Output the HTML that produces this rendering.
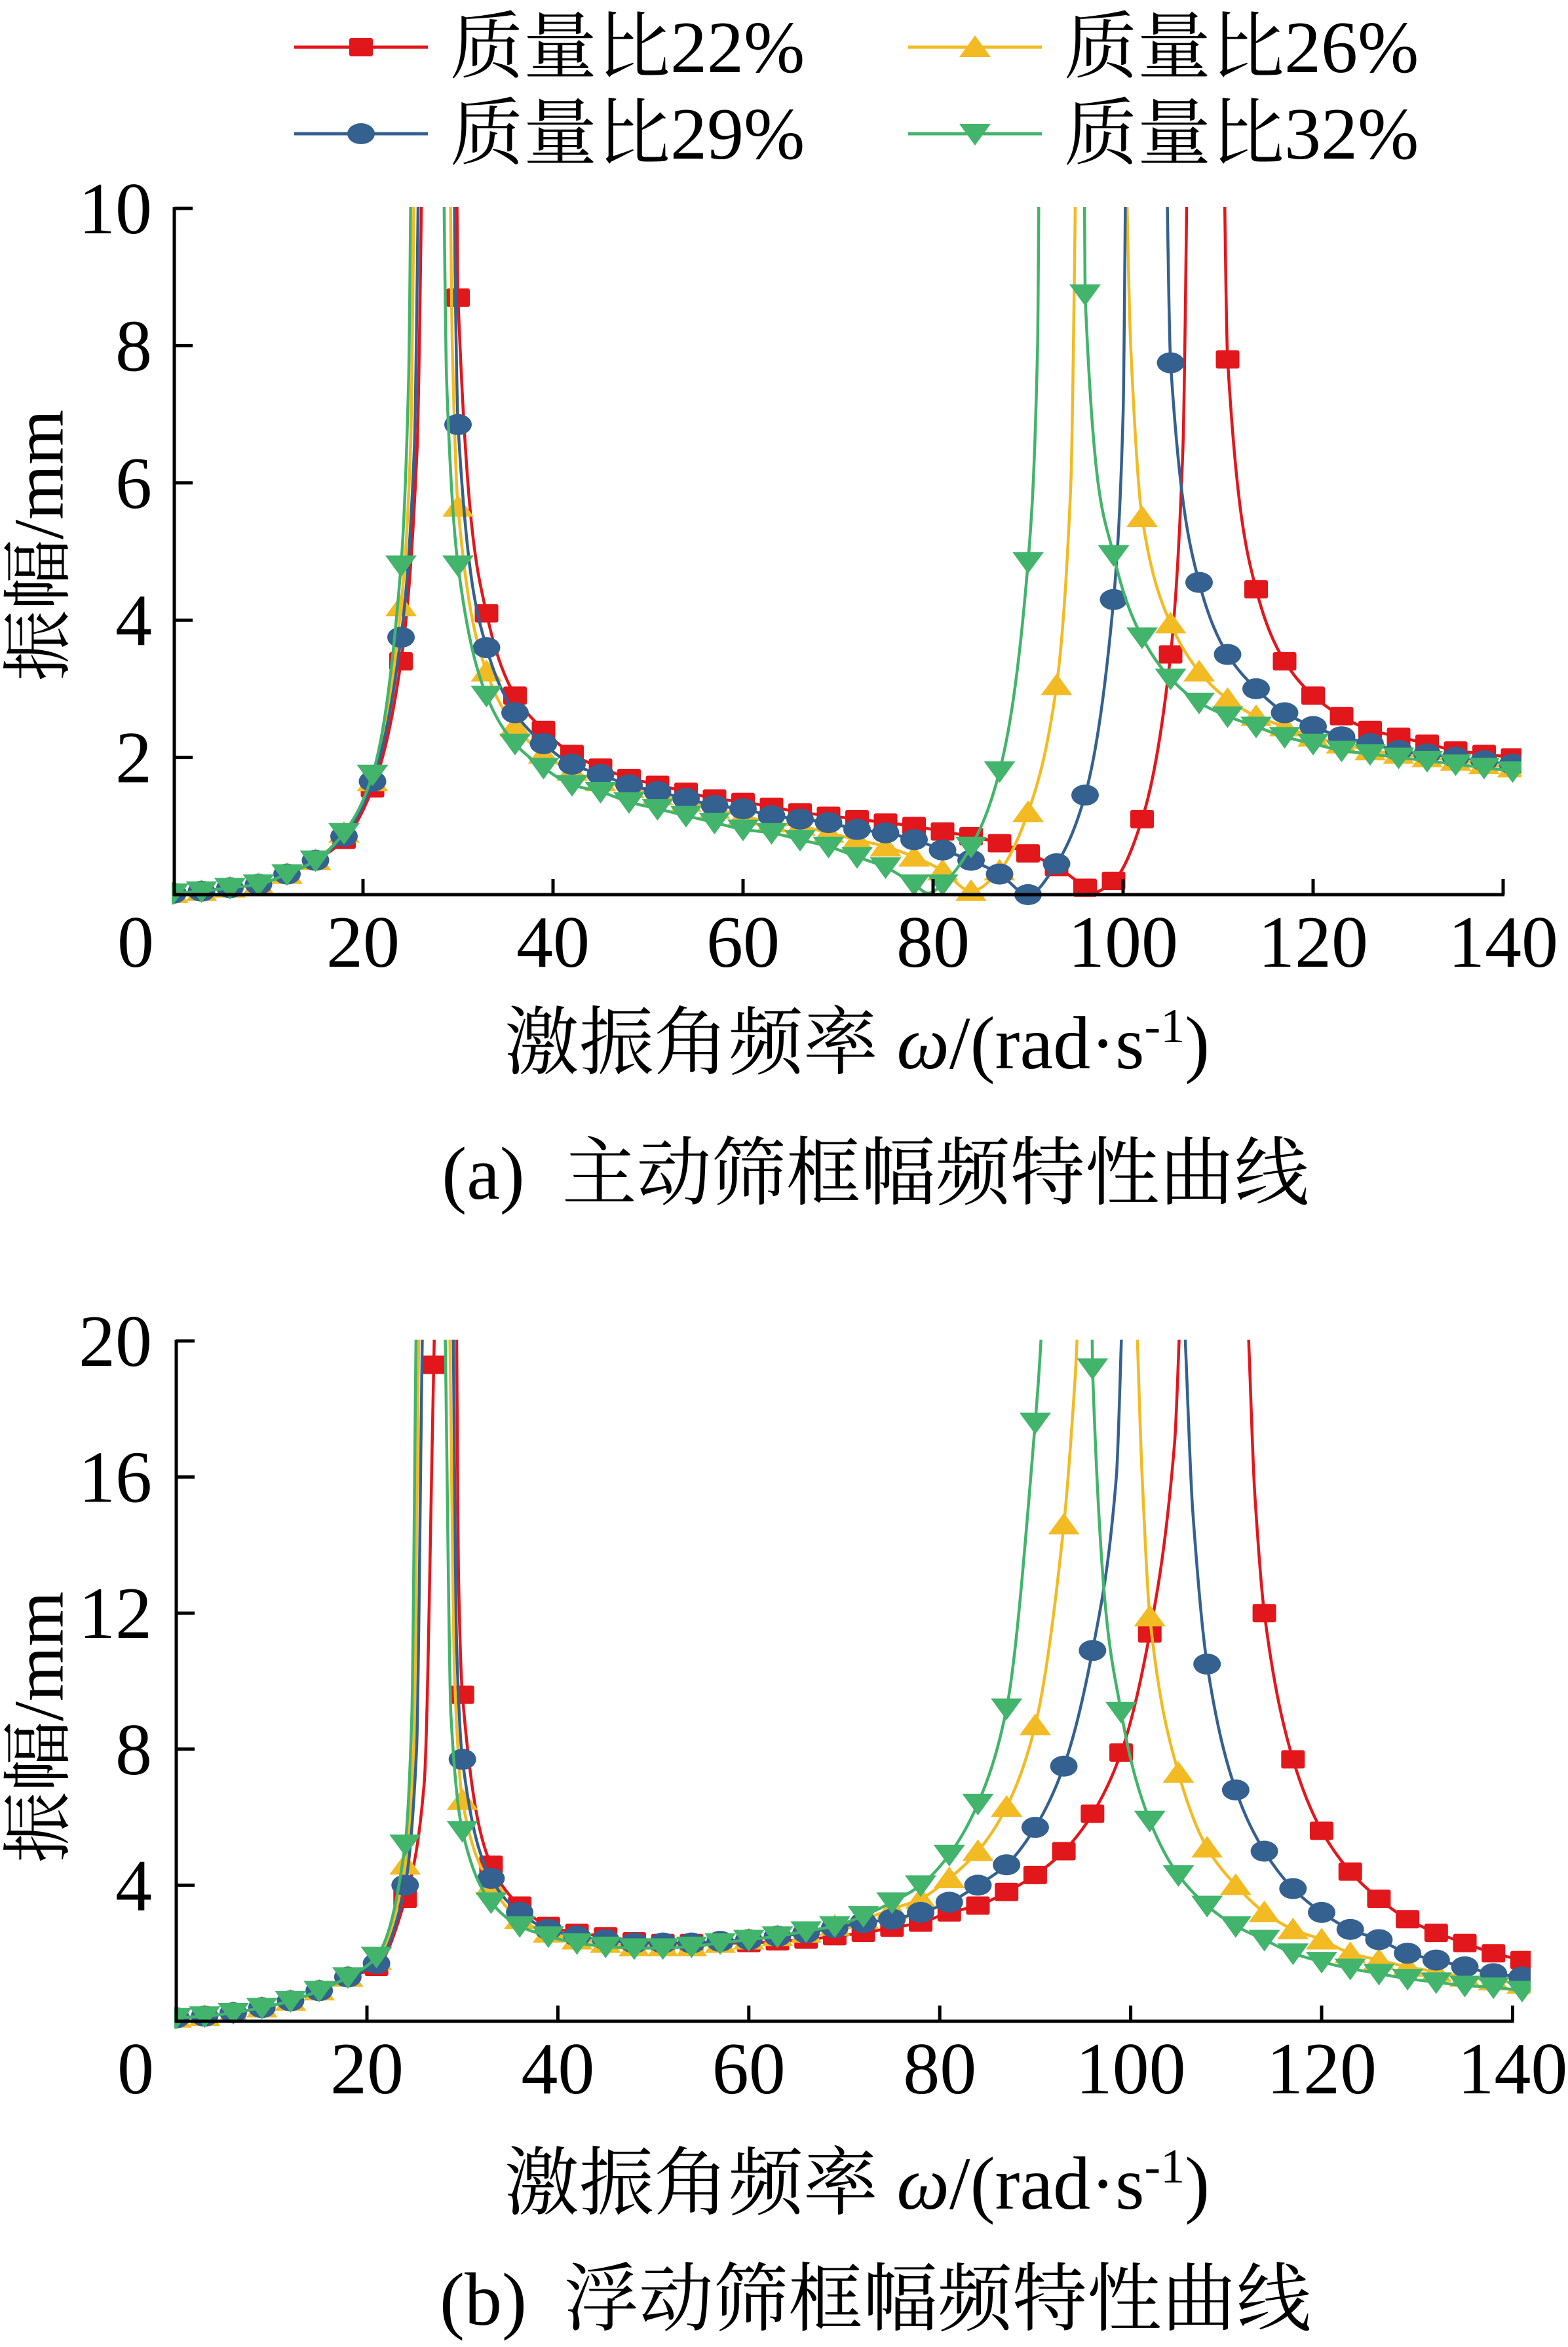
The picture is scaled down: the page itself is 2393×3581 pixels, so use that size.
<!DOCTYPE html>
<html><head><meta charset="utf-8"><style>
html,body{margin:0;padding:0;background:#fff;}
svg{display:block;}
text{font-family:"Liberation Serif","Noto Serif CJK SC",serif;fill:#000;}
</style></head><body>
<svg id="fig" xmlns="http://www.w3.org/2000/svg" width="2393" height="3581" viewBox="0 0 2393 3581">
<defs>
<clipPath id="clipA"><rect x="262" y="316" width="2060" height="1070"/></clipPath>
<clipPath id="clipB"><rect x="266" y="2044" width="2070" height="1060"/></clipPath>
</defs>
<g id="legend"></g>
<g id="chartA"></g>
<g id="chartB"></g>
<text x="60" y="832" font-size="108" text-anchor="middle" dominant-baseline="central" transform="rotate(-90 60 832)">振幅/mm</text>
<text x="60" y="2635" font-size="108" text-anchor="middle" dominant-baseline="central" transform="rotate(-90 60 2635)">振幅/mm</text>
<text x="1308" y="1630" font-size="114" text-anchor="middle">激振角频率 <tspan font-style="italic">ω</tspan>/(rad·s<tspan dy="-40" font-size="74">-1</tspan><tspan dy="40">)</tspan></text>
<text x="1336" y="1829" font-size="114" text-anchor="middle" xml:space="preserve">(a)  主动筛框幅频特性曲线</text>
<text x="1308" y="3370" font-size="114" text-anchor="middle">激振角频率 <tspan font-style="italic">ω</tspan>/(rad·s<tspan dy="-40" font-size="74">-1</tspan><tspan dy="40">)</tspan></text>
<text x="1336" y="3547" font-size="114" text-anchor="middle" xml:space="preserve">(b)  浮动筛框幅频特性曲线</text>
</svg>
<script>
// ---- data ----
const xs = [0,3,6,9,12,15,18,21,24,27,30,33,36,39,42,45,48,51,54,57,60,63,66,69,72,75,78,81,84,87,90,93,96,99,102,105,108,111,114,117,120,123,126,129,132,135,138,141];
const seriesNames = ["质量比22%","质量比26%","质量比29%","质量比32%"];
const xTicks = [0,20,40,60,80,100,120,140];
const yTicksA = [2,4,6,8,10];
const yTicksB = [4,8,12,16,20];

const aRed    = [0.02,0.05,0.1,0.15,0.3,0.5,0.8,1.55,3.4,null,8.7,4.1,2.9,2.4,2.05,1.85,1.7,1.6,1.5,1.4,1.35,1.28,1.2,1.15,1.1,1.05,1.0,0.92,0.85,0.75,0.6,0.4,0.1,0.2,1.1,3.5,null,7.8,4.45,3.4,2.9,2.6,2.4,2.3,2.2,2.1,2.05,2.0];
const aYellow = [0.02,0.05,0.1,0.15,0.3,0.5,0.9,1.65,4.2,null,5.65,3.25,2.45,2.05,1.8,1.65,1.55,1.45,1.35,1.25,1.15,1.05,1.0,0.9,0.8,0.7,0.55,0.35,0.05,0.35,1.2,3.05,null,null,5.5,3.95,3.25,2.85,2.6,2.45,2.3,2.2,2.1,2.05,2.0,1.95,1.9,1.85];
const aBlue   = [0.02,0.05,0.1,0.15,0.3,0.5,0.85,1.65,3.75,null,6.85,3.6,2.65,2.2,1.9,1.75,1.6,1.5,1.4,1.3,1.25,1.15,1.1,1.05,0.95,0.9,0.8,0.65,0.5,0.3,0.0,0.45,1.45,4.3,null,7.75,4.55,3.5,3.0,2.65,2.45,2.3,2.2,2.1,2.05,2.0,1.95,1.9];
const aGreen  = [0.02,0.05,0.1,0.15,0.3,0.5,0.9,1.75,4.8,null,4.8,2.9,2.2,1.85,1.6,1.5,1.35,1.25,1.15,1.05,0.95,0.9,0.8,0.7,0.55,0.4,0.15,0.15,0.7,1.8,4.85,null,8.75,4.95,3.75,3.15,2.8,2.6,2.45,2.3,2.2,2.1,2.05,2.0,1.95,1.9,1.85,1.8];
const aRedPeak    = [[25.7,6.5],[26.6,13],[29.7,13],[96.6,0.02],[106.3,6.5],[107.1,13],[110.3,13]];
const aYellowPeak = [[25.0,6.5],[25.7,13],[28.9,13],[29.4,8.0],[94.5,6],[95.4,13],[99.8,13],[100.8,8]];
const aBluePeak   = [[25.4,6.5],[26.2,13],[29.4,13],[29.7,9],[100.0,7],[100.5,13],[104.2,13]];
const aGreenPeak  = [[24.8,7.5],[25.3,13],[28.2,13],[28.8,7.5],[79.5,0.02],[91.0,8],[91.3,13],[95.8,13]];

const bRed    = [0.1,0.15,0.25,0.4,0.6,0.9,1.3,1.6,3.6,19.3,9.6,4.6,3.4,2.8,2.6,2.5,2.35,2.3,2.3,2.3,2.3,2.35,2.4,2.5,2.6,2.75,2.9,3.2,3.4,3.8,4.3,5.0,6.1,7.9,11.4,null,null,null,12.0,7.7,5.6,4.4,3.6,3.0,2.6,2.3,2.0,1.8];
const bYellow = [0.1,0.15,0.25,0.4,0.6,0.9,1.3,1.8,4.6,null,6.5,4.0,3.0,2.6,2.4,2.3,2.2,2.2,2.2,2.3,2.4,2.5,2.6,2.8,3.0,3.3,3.6,4.2,5.0,6.3,8.7,14.6,null,null,11.9,7.3,5.1,4.0,3.2,2.7,2.4,2.0,1.8,1.6,1.45,1.3,1.2,1.1];
const bBlue   = [0.1,0.15,0.25,0.4,0.6,0.9,1.3,1.7,4.0,null,7.7,4.2,3.2,2.7,2.5,2.4,2.3,2.3,2.3,2.35,2.4,2.5,2.6,2.75,2.9,3.0,3.2,3.5,4.0,4.6,5.7,7.5,10.9,null,null,null,10.5,6.8,5.0,3.9,3.2,2.7,2.4,2.0,1.8,1.6,1.4,1.3];
const bGreen  = [0.1,0.15,0.25,0.4,0.6,0.9,1.3,1.9,5.2,null,5.6,3.5,2.8,2.5,2.3,2.2,2.15,2.15,2.2,2.3,2.4,2.5,2.65,2.8,3.1,3.5,4.0,4.9,6.4,9.2,17.6,null,19.2,9.1,5.9,4.3,3.4,2.8,2.4,2.0,1.75,1.55,1.4,1.25,1.15,1.05,1.0,0.9];
const bRedPeak    = [[26.0,7],[27.2,22],[29.3,22],[29.6,13],[104.6,17],[105.5,22],[111.9,22],[113,15.5]];
const bYellowPeak = [[24.9,8],[25.6,22],[28.5,22],[29.2,10],[94.2,19],[94.8,22],[100.3,22],[101.2,16]];
const bBluePeak   = [[25.2,8],[26.0,22],[28.9,22],[29.4,11],[98.5,16],[99.4,22],[105.2,22],[106.5,15]];
const bGreenPeak  = [[24.7,9],[25.3,22],[28.0,22],[28.8,9],[90.6,20],[90.9,22],[95.9,22]];

const colors = ["#e2171c","#f2bb24","#34618f","#42b46b"];
const shapes = ["square","triangle","circle","tri-down"];
const keys = ["red-22","yellow-26","blue-29","green-32"];

const NS = "http://www.w3.org/2000/svg";
function mk(tag, attrs, parent){const e=document.createElementNS(NS,tag);for(const k in attrs)e.setAttribute(k,attrs[k]);parent.appendChild(e);return e;}

function marker(shape, cx, cy, color, parent){
  let e;
  if(shape==="square"){e=mk("rect",{x:cx-18,y:cy-14,width:36,height:28,rx:3,fill:color},parent);}
  else if(shape==="circle"){e=mk("ellipse",{cx:cx,cy:cy,rx:21,ry:16,fill:color},parent);}
  else if(shape==="triangle"){e=mk("polygon",{points:`${cx-24},${cy+15} ${cx+24},${cy+15} ${cx},${cy-18}`,fill:color},parent);}
  else {e=mk("polygon",{points:`${cx-24},${cy-15} ${cx+24},${cy-15} ${cx},${cy+18}`,fill:color},parent);}
  return e;
}

function monoPath(pts, sx, sy){
  const n=pts.length; const X=pts.map(p=>sx(p[0])), Y=pts.map(p=>sy(p[1]));
  const d=[],m=new Array(n);
  for(let i=0;i<n-1;i++) d.push((Y[i+1]-Y[i])/(X[i+1]-X[i]));
  m[0]=d[0]; m[n-1]=d[n-2];
  for(let i=1;i<n-1;i++){ if(d[i-1]*d[i]<=0) m[i]=0; else { const w1=2*(X[i+1]-X[i])+(X[i]-X[i-1]), w2=(X[i+1]-X[i])+2*(X[i]-X[i-1]); m[i]=(w1+w2)/(w1/d[i-1]+w2/d[i]); } }
  let s=`M${X[0].toFixed(1)},${Y[0].toFixed(1)}`;
  for(let i=0;i<n-1;i++){const h=(X[i+1]-X[i])/3;
    s+=` C${(X[i]+h).toFixed(1)},${(Y[i]+m[i]*h).toFixed(1)} ${(X[i+1]-h).toFixed(1)},${(Y[i+1]-m[i+1]*h).toFixed(1)} ${X[i+1].toFixed(1)},${Y[i+1].toFixed(1)}`;}
  return s;
}

function drawChart(g, cfg){
  const sx=v=>cfg.x0+v*cfg.kx, sy=v=>cfg.y0-v*cfg.ky;
  const plot=mk("g",{"clip-path":`url(#${cfg.clip})`},g);
  
  
  cfg.series.forEach((vals,si)=>{
    const pts=[];
    vals.forEach((v,i)=>{ if(v!==null) pts.push([xs[i],v]); });
    cfg.peaks[si].forEach(p=>pts.push([p[0],p[1]]));
    pts.sort((a,b)=>a[0]-b[0]);
    const sg=mk("g",{},plot);
    
    
    const line=mk("path",{d:monoPath(pts,sx,sy),fill:"none",stroke:colors[si],"stroke-width":4.5},sg);
    
    
    vals.forEach((v,i)=>{ if(v===null) return;
      const mEl=marker(shapes[si],sx(xs[i]),sy(v),colors[si],sg);
      
      
    });
  });
  const ax=mk("g",{},g);
  
  
  const yAxis=mk("line",{x1:cfg.axX,y1:sy(cfg.yMax)-2,x2:cfg.axX,y2:cfg.y0+2,stroke:"#000","stroke-width":5},ax);
  
  
  const xAxis=mk("line",{x1:cfg.axX-2,y1:cfg.y0,x2:sx(140)+2,y2:cfg.y0,stroke:"#000","stroke-width":5},ax);
  
  
  xTicks.forEach(t=>{
    if(t>0){const tk=mk("line",{x1:sx(t),y1:cfg.y0,x2:sx(t),y2:cfg.y0-24,stroke:"#000","stroke-width":5},ax);
      
      }
    const lb=mk("text",{x:t===0?207:sx(t),y:cfg.y0+110,"font-size":112,"text-anchor":"middle"},ax);
    lb.textContent=t;
    
    
  });
  cfg.yTicks.forEach(t=>{
    const tk=mk("line",{x1:cfg.axX,y1:sy(t),x2:cfg.axX+28,y2:sy(t),stroke:"#000","stroke-width":5},ax);
    
    
    const lb=mk("text",{x:232,y:sy(t)+38,"font-size":112,"text-anchor":"end"},ax);
    lb.textContent=t;
    
    
  });
}

drawChart(document.getElementById("chartA"),{id:"chart-a",clip:"clipA",x0:264,kx:14.5,y0:1365,ky:104.7,yMax:10,axX:266,yTicks:yTicksA,
  series:[aRed,aYellow,aBlue,aGreen],peaks:[aRedPeak,aYellowPeak,aBluePeak,aGreenPeak]});
drawChart(document.getElementById("chartB"),{id:"chart-b",clip:"clipB",x0:268.6,kx:14.57,y0:3084,ky:51.9,yMax:20,axX:269,yTicks:yTicksB,
  series:[bRed,bYellow,bBlue,bGreen],peaks:[bRedPeak,bYellowPeak,bBluePeak,bGreenPeak]});

const lg=document.getElementById("legend");
const legPos=[[449,72],[1386,72],[449,204],[1386,204]];
seriesNames.forEach((name,i)=>{
  const [lx,ly]=legPos[i];
  const e=mk("g",{},lg);
  
  
  mk("line",{x1:lx,y1:ly,x2:lx+204,y2:ly,stroke:colors[i],"stroke-width":5},e);
  marker(shapes[i],lx+102,ly,colors[i],e);
  const t=mk("text",{x:lx+238,y:ly+38,"font-size":112},e);
  t.textContent=name;
});
</script>
</body></html>
